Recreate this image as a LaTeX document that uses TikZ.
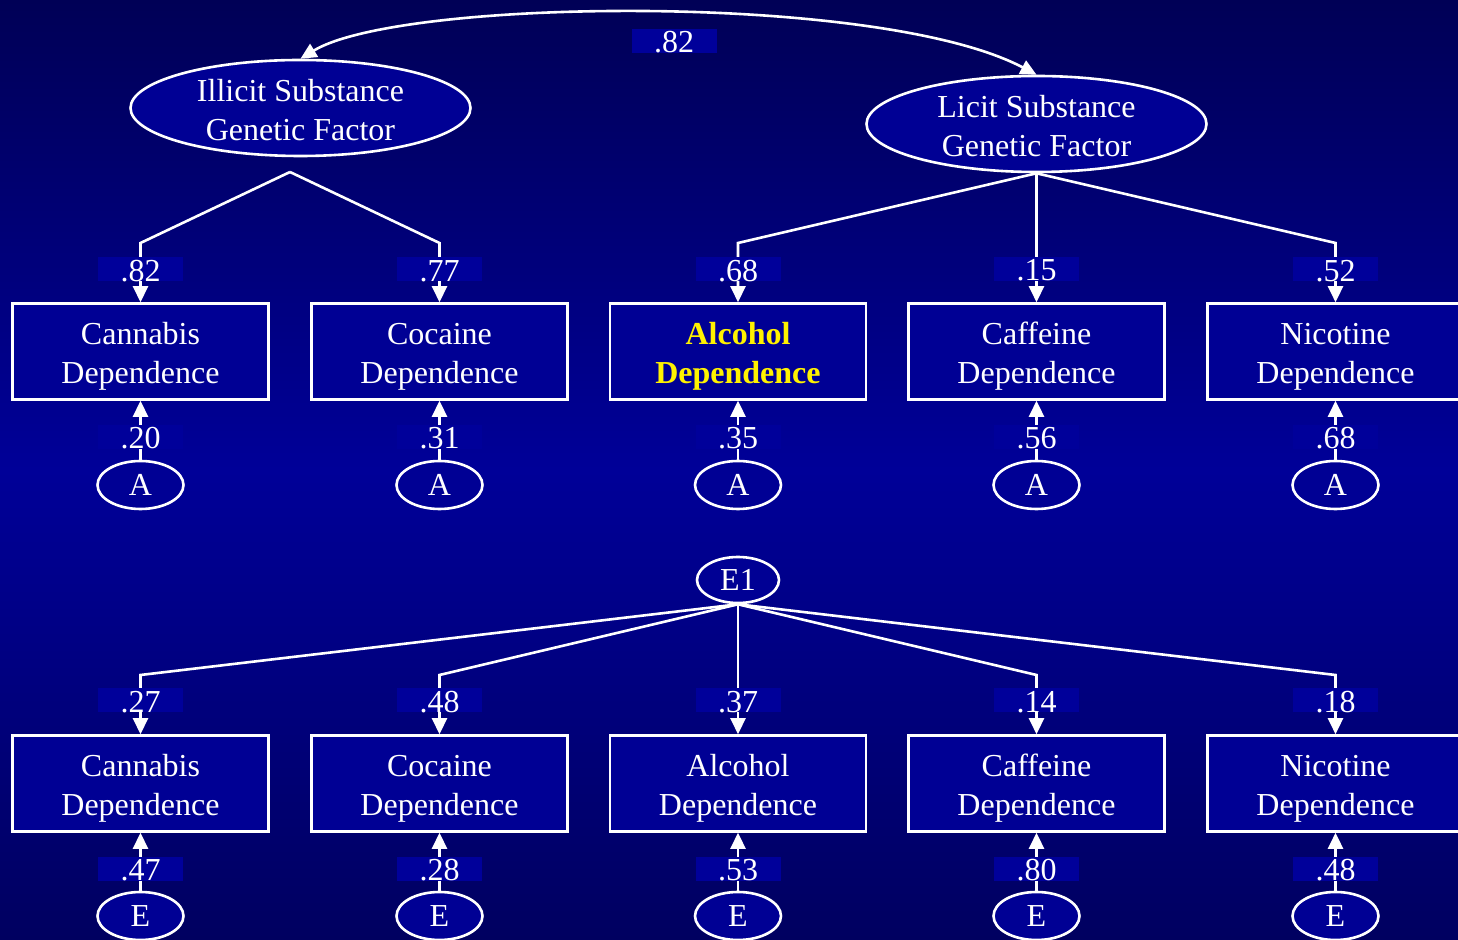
\documentclass[tikz,border=0pt]{standalone}
\usepackage{fontspec}
\setmainfont{Liberation Serif}
\usetikzlibrary{shapes.geometric,arrows.meta}
\definecolor{bgtop}{RGB}{0,0,86}
\definecolor{bgmid}{RGB}{0,0,152}
\definecolor{bgbot}{RGB}{0,0,96}
\definecolor{boxblue}{RGB}{0,0,148}
\definecolor{lblblue}{RGB}{0,0,154}
\newcommand{\dep}[1]{\rule{0pt}{16pt}#1\\Dependence}

\begin{document}
\begin{tikzpicture}[x=0.5pt,y=-0.5pt,
  every node/.style={text=white,font=\fontsize{16}{19.5}\selectfont},
  factor/.style={ellipse,draw=white,line width=1.3pt,fill=boxblue,minimum width=170pt,minimum height=48pt,align=center,inner sep=0pt},
  measure/.style={draw=white,line width=1.3pt,fill=boxblue,minimum width=128pt,minimum height=48pt,align=center,inner sep=0pt},
  resid/.style={ellipse,draw=white,line width=1.3pt,fill=boxblue,minimum width=43pt,minimum height=24pt,inner sep=0pt},
  coef/.style={fill=lblblue,minimum width=42.5pt,inner sep=0pt,text height=12pt,text depth=0pt},
  loading/.style={draw=white,line width=1.3pt,-{Triangle[length=8pt,width=7.5pt]}}]
  \useasboundingbox (0,0) rectangle (1458,940);
  \shade[top color=bgtop,bottom color=bgbot,middle color=bgmid] (0,0) rectangle (1458,940);

  \node[factor] (illicit) at (300.5,108) {\rule{0pt}{13.4pt}Illicit Substance\\Genetic Factor};
  \node[factor] (licit) at (1036.5,124) {\rule{0pt}{13.4pt}Licit Substance\\Genetic Factor};

  \node[measure] (can1) at (140.5,351.5) {\dep{Cannabis}};
  \node[measure] (coc1) at (439.5,351.5) {\dep{Cocaine}};
  \node[measure,text=yellow,font=\fontsize{16}{19.5}\selectfont\bfseries] (alc1) at (738,351.5) {\dep{Alcohol}};
  \node[measure] (caf1) at (1036.5,351.5) {\dep{Caffeine}};
  \node[measure] (nic1) at (1335.5,351.5) {\dep{Nicotine}};

  \node[resid] (acan) at (140.5,485) {A};
  \node[resid] (acoc) at (439.5,485) {A};
  \node[resid] (aalc) at (738,485) {A};
  \node[resid] (acaf) at (1036.5,485) {A};
  \node[resid] (anic) at (1335.5,485) {A};

  \node[resid,minimum width=41pt,minimum height=23pt] (eone) at (738,580) {E1};

  \node[measure] (can2) at (140.5,783.5) {\dep{Cannabis}};
  \node[measure] (coc2) at (439.5,783.5) {\dep{Cocaine}};
  \node[measure] (alc2) at (738,783.5) {\dep{Alcohol}};
  \node[measure] (caf2) at (1036.5,783.5) {\dep{Caffeine}};
  \node[measure] (nic2) at (1335.5,783.5) {\dep{Nicotine}};

  \node[resid] (ecan) at (140.5,916) {E};
  \node[resid] (ecoc) at (439.5,916) {E};
  \node[resid] (ealc) at (738,916) {E};
  \node[resid] (ecaf) at (1036.5,916) {E};
  \node[resid] (enic) at (1335.5,916) {E};

  \coordinate (iapex) at (290,172);
  \coordinate (gbend) at (0,243);
  \coordinate (ebend) at (0,675);

  \draw[loading,{Triangle[length=8pt,width=7.5pt]}-{Triangle[length=8pt,width=7.5pt]}] (illicit.north) .. controls (400,-2) and (880,-8) .. (licit.north);
  \node[coef] (rgen) at (674,41) {.82};

  \draw[loading] (iapex) -- (can1.north |- gbend) -- node[coef,pos=0.44] {.82} (can1.north);
  \draw[loading] (iapex) -- (coc1.north |- gbend) -- node[coef,pos=0.44] {.77} (coc1.north);
  \draw[loading] (licit.south) -- (alc1.north |- gbend) -- node[coef,pos=0.44] {.68} (alc1.north);
  \draw[loading] (licit.south) -- node[coef,pos=0.74] {.15} (caf1.north);
  \draw[loading] (licit.south) -- (nic1.north |- gbend) -- node[coef,pos=0.44] {.52} (nic1.north);

  \draw[loading] (acan) -- node[coef,pos=0.39] {.20} (can1);
  \draw[loading] (acoc) -- node[coef,pos=0.39] {.31} (coc1);
  \draw[loading] (aalc) -- node[coef,pos=0.39] {.35} (alc1);
  \draw[loading] (acaf) -- node[coef,pos=0.39] {.56} (caf1);
  \draw[loading] (anic) -- node[coef,pos=0.39] {.68} (nic1);

  \draw[loading] (eone.south) -- (can2.north |- ebend) -- node[coef,pos=0.43] {.27} (can2.north);
  \draw[loading] (eone.south) -- (coc2.north |- ebend) -- node[coef,pos=0.43] {.48} (coc2.north);
  \draw[loading] (eone.south) -- node[coef,pos=0.74] {.37} (alc2.north);
  \draw[loading] (eone.south) -- (caf2.north |- ebend) -- node[coef,pos=0.43] {.14} (caf2.north);
  \draw[loading] (eone.south) -- (nic2.north |- ebend) -- node[coef,pos=0.43] {.18} (nic2.north);

  \draw[loading] (ecan) -- node[coef,pos=0.38] {.47} (can2);
  \draw[loading] (ecoc) -- node[coef,pos=0.38] {.28} (coc2);
  \draw[loading] (ealc) -- node[coef,pos=0.38] {.53} (alc2);
  \draw[loading] (ecaf) -- node[coef,pos=0.38] {.80} (caf2);
  \draw[loading] (enic) -- node[coef,pos=0.38] {.48} (nic2);
\end{tikzpicture}
\end{document}
